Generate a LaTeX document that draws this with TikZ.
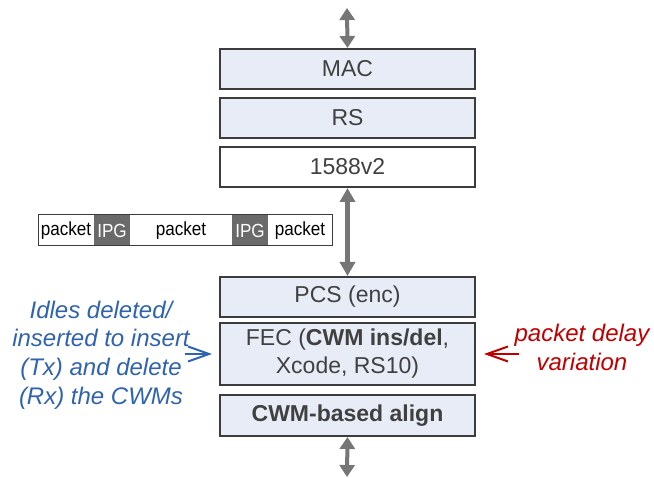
\documentclass[tikz,border=0pt]{standalone}
\usepackage{fontspec}
\setmainfont{Liberation Sans}
\newfontfamily\stripfont[FakeStretch=0.9]{Liberation Sans}
\usetikzlibrary{arrows.meta,positioning,fit}
\definecolor{layerfill}{HTML}{E7ECF6}
\definecolor{layerline}{HTML}{3C3C3C}
\definecolor{layertext}{HTML}{404040}
\definecolor{flow}{HTML}{767676}
\definecolor{ipg}{HTML}{6A6A6A}
\definecolor{noteblue}{HTML}{2F63AE}
\definecolor{notered}{HTML}{C00000}
\begin{document}
\begin{tikzpicture}[x=1pt,y=-1pt,
  layer/.style={draw=layerline, line width=2pt, fill=layerfill,
    minimum width=255pt, minimum height=40pt, inner sep=0pt,
    text=layertext, align=center, font=\fontsize{23}{28}\selectfont},
  flowarrow/.style={draw=flow, line width=4.5pt,
    {Triangle[length=14pt,width=15pt]}-{Triangle[length=14pt,width=15pt]}},
  endarrow/.style={draw=flow, line width=4pt,
    {Triangle[length=12pt,width=15pt]}-{Triangle[length=12pt,width=15pt]}},
  notearrow/.style={line width=2pt, -{Straight Barb[length=21pt,width=15pt]}},
  seg/.style={minimum height=31pt, inner sep=0pt, outer sep=0pt,
    font=\stripfont\fontsize{19}{20}\selectfont},
  gap/.style={seg, fill=ipg, text=white},
  note/.style={align=center, inner sep=0pt,
    font=\fontsize{24}{28.7}\selectfont\itshape}
]
\useasboundingbox (0,0) rectangle (654,478);

% protocol stack
\node[layer] (mac) at (347.5,69) {MAC};
\node[layer] (rs) at (347.5,118) {RS};
\node[layer, fill=white] (ptp) at (347.5,167) {1588v2};
\node[layer] (pcs) at (347.5,297) {PCS (enc)};
\node[layer, minimum height=62pt] (fec) at (347.5,354)
  {FEC (\textbf{CWM ins/del},\\Xcode, RS10)};
\node[layer, minimum height=41pt] (align) at (347.5,415.5)
  {\textbf{CWM-based align}};

% data flow between layers
\coordinate (topend) at (347,8);
\coordinate (botend) at (347,477);
\draw[endarrow] (topend) -- (mac.north);
\draw[flowarrow] (ptp.south) -- (pcs.north);
\draw[endarrow] (align.south) -- (botend);

% packet stream with inter-packet gaps
\node[seg, minimum width=56pt, anchor=west] (p1) at (38,230.5) {packet};
\node[gap, minimum width=36pt, right=0pt of p1] (g1) {IPG};
\node[seg, minimum width=102pt, right=0pt of g1] (p2) {packet};
\node[gap, minimum width=36pt, right=0pt of p2] (g2) {IPG};
\node[seg, minimum width=64pt, right=0pt of g2] (p3) {packet};
\draw[layerline, line width=1pt] (p1.north west) rectangle (p3.south east);

% side notes
\node[note, text=noteblue] (leftnote) at (101,355)
  {Idles deleted/\\inserted to insert\\(Tx) and delete\\(Rx) the CWMs};
\draw[notearrow, noteblue] ([xshift=-5pt]leftnote.east |- fec.center)
  -- ([xshift=-7pt]fec.west);

\node[note, text=notered] (rightnote) at (582,347.5)
  {packet delay\\variation};
\draw[notearrow, notered] ([xshift=5pt]rightnote.west |- fec.center)
  -- ([xshift=8pt]fec.east);
\end{tikzpicture}
\end{document}
